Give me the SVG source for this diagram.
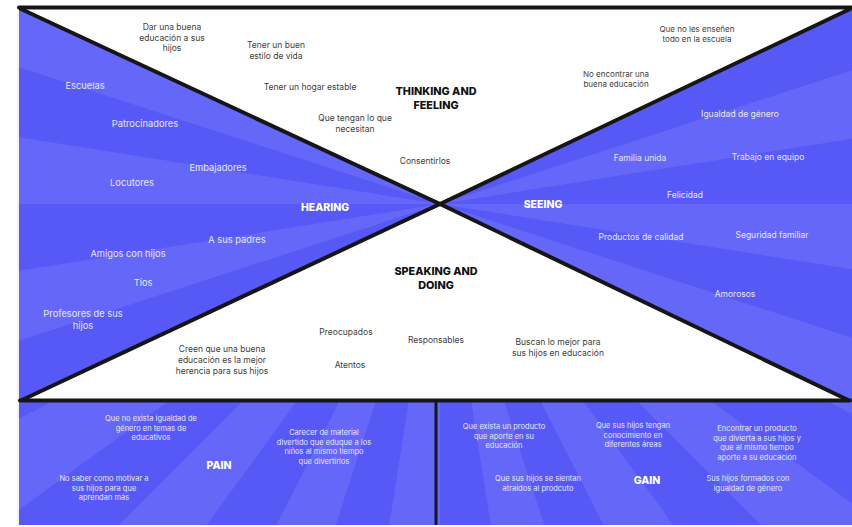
<svg xmlns="http://www.w3.org/2000/svg" width="852" height="527" viewBox="0 0 852 527">
<defs>
<clipPath id="bgclip"><rect x="19" y="6" width="833" height="519"/></clipPath>
<style>
text{font-family:Inter,"Liberation Sans",sans-serif;text-anchor:middle}
.d{font-size:8.5px;fill:#3d3d3d}
.dm{font-size:8px;fill:#3d3d3d}
.w{font-size:9.3px;fill:#e6e7ff}
.ws{font-size:8.5px;fill:#e6e7ff}
.s{font-size:7.5px;fill:#e6e7ff}
.hd{font-size:10.8px;font-weight:800;fill:#111111}
.hw{font-size:10.5px;font-weight:800;fill:#ffffff}
.line{fill:none;stroke:#161616;stroke-width:4;stroke-linejoin:round;stroke-linecap:round}
</style>
</defs>
<rect width="852" height="527" fill="#ffffff"/>
<line x1="18" y1="6" x2="18" y2="526" stroke="#e4e4e4" stroke-width="1"/>
<g id="background" clip-path="url(#bgclip)">
<rect x="19" y="6" width="833" height="519" fill="#5659f6"/>
<path fill="#6467f8" d="M440,204L1240,204L1230.2,329.1Z M440,204L1200.9,451.2L1152.8,567.2Z M440,204L1087.2,674.2L1005.7,769.7Z M440,204L910.2,851.2L803.2,916.8Z M440,204L687.2,964.9L565.1,994.2Z M440,204L440,1004L314.9,994.2Z M440,204L192.8,964.9L76.8,916.8Z M440,204L-30.2,851.2L-125.7,769.7Z M440,204L-207.2,674.2L-272.8,567.2Z M440,204L-320.9,451.2L-350.2,329.1Z M440,204L-360,204L-350.2,78.9Z M440,204L-320.9,-43.2L-272.8,-159.2Z M440,204L-207.2,-266.2L-125.7,-361.7Z M440,204L-30.2,-443.2L76.8,-508.8Z M440,204L192.8,-556.9L314.9,-586.2Z M440,204L440,-596L565.1,-586.2Z M440,204L687.2,-556.9L803.2,-508.8Z M440,204L910.2,-443.2L1005.7,-361.7Z M440,204L1087.2,-266.2L1152.8,-159.2Z M440,204L1200.9,-43.2L1230.2,78.9Z"/>
</g>
<g id="thinking-feeling-area"><polygon points="21,9 850,9 440,204" fill="#ffffff"/></g>
<g id="speaking-doing-area"><polygon points="22,400 848,400 440,204" fill="#ffffff"/></g>
<g id="connectors">
<line class="line" x1="19" y1="7.5" x2="852" y2="7.5"/>
<polyline class="line" points="21,9 440,204 850,9"/>
<polyline class="line" points="22,400 440,204 848,400"/>
<line class="line" x1="20" y1="400.5" x2="850" y2="400.5"/>
<line x1="436" y1="401" x2="436" y2="525" stroke="#161616" stroke-width="3"/>
</g>
<g id="thinking-feeling">
<text class="hd" x="436" y="95">THINKING AND</text>
<text class="hd" x="436" y="109">FEELING</text>
<g id="tf1"><text class="d" x="172" y="30">Dar una buena</text><text class="d" x="172" y="40.5">educación a sus</text><text class="d" x="172" y="51">hijos</text></g>
<g id="tf2"><text class="d" x="276" y="48">Tener un buen</text><text class="d" x="276" y="58.5">estilo de vida</text></g>
<g id="tf3"><text class="d" x="310" y="90">Tener un hogar estable</text></g>
<g id="tf4"><text class="d" x="355" y="121">Que tengan lo que</text><text class="d" x="355" y="132">necesitan</text></g>
<g id="tf5"><text class="d" x="425" y="164">Consentirlos</text></g>
<g id="tf6"><text class="dm" x="697" y="32">Que no les enseñen</text><text class="dm" x="697" y="41.5">todo en la escuela</text></g>
<g id="tf7"><text class="dm" x="616" y="77">No encontrar una</text><text class="dm" x="616" y="86.5">buena educación</text></g>
</g>
<g id="hearing">
<text class="hw" x="325" y="211">HEARING</text>
<g id="h1"><text class="w" x="85" y="89">Escuelas</text></g>
<g id="h2"><text class="w" x="145" y="126.5">Patrocinadores</text></g>
<g id="h3"><text class="w" x="218" y="170.5">Embajadores</text></g>
<g id="h4"><text class="w" x="132" y="185.5">Locutores</text></g>
<g id="h5"><text class="w" x="237" y="242.5">A sus padres</text></g>
<g id="h6"><text class="w" x="128" y="256.5">Amigos con hijos</text></g>
<g id="h7"><text class="w" x="143" y="285.5">Tíos</text></g>
<g id="h8"><text class="w" x="83" y="316.5">Profesores de sus</text><text class="w" x="83" y="328.5">hijos</text></g>
</g>
<g id="seeing">
<text class="hw" x="543" y="208">SEEING</text>
<g id="se1"><text class="ws" x="740" y="116.5">Igualdad de género</text></g>
<g id="se2"><text class="ws" x="640" y="160.5">Familia unida</text></g>
<g id="se3"><text class="ws" x="768" y="159.5">Trabajo en equipo</text></g>
<g id="se4"><text class="ws" x="685" y="197.5">Felicidad</text></g>
<g id="se5"><text class="ws" x="641" y="239.5">Productos de calidad</text></g>
<g id="se6"><text class="ws" x="772" y="237.5">Seguridad familiar</text></g>
<g id="se7"><text class="ws" x="735" y="296.5">Amorosos</text></g>
</g>
<g id="speaking-doing">
<text class="hd" x="436" y="275">SPEAKING AND</text>
<text class="hd" x="436" y="289">DOING</text>
<g id="sd1"><text class="d" x="346" y="335">Preocupados</text></g>
<g id="sd2"><text class="d" x="436" y="343">Responsables</text></g>
<g id="sd3"><text class="d" x="350" y="368">Atentos</text></g>
<g id="sd4"><text class="d" x="222" y="352">Creen que una buena</text><text class="d" x="222" y="363">educación es la mejor</text><text class="d" x="222" y="374">herencia para sus hijos</text></g>
<g id="sd5"><text class="d" x="558" y="345">Buscan lo mejor para</text><text class="d" x="558" y="356">sus hijos en educación</text></g>
</g>
<g id="pain">
<text class="hw" x="219" y="469">PAIN</text>
<g id="p1"><text class="s" x="151" y="421">Que no exista igualdad de</text><text class="s" x="151" y="430.5">género en temas de</text><text class="s" x="151" y="440">educativos</text></g>
<g id="p2"><text class="s" x="324" y="435">Carecer de material</text><text class="s" x="324" y="444.5">divertido que eduque a los</text><text class="s" x="324" y="454">niños al mismo tiempo</text><text class="s" x="324" y="463.5">que divertirlos</text></g>
<g id="p3"><text class="s" x="104" y="481">No saber como motivar a</text><text class="s" x="104" y="490.5">sus hijos para que</text><text class="s" x="104" y="500">aprendan más</text></g>
</g>
<g id="gain">
<text class="hw" x="647" y="484">GAIN</text>
<g id="g1"><text class="s" x="504" y="429">Que exista un producto</text><text class="s" x="504" y="438.5">que aporte en su</text><text class="s" x="504" y="448">educación</text></g>
<g id="g2"><text class="s" x="633" y="428">Que sus hijos tengan</text><text class="s" x="633" y="437.5">conocimiento en</text><text class="s" x="633" y="447">diferentes áreas</text></g>
<g id="g3"><text class="s" x="757" y="431">Encontrar un producto</text><text class="s" x="757" y="440.5">que divierta a sus hijos y</text><text class="s" x="757" y="450">que al mismo tiempo</text><text class="s" x="757" y="459.5">aporte a su educación</text></g>
<g id="g4"><text class="s" x="538" y="481">Que sus hijos se sientan</text><text class="s" x="538" y="490.5">atraídos al prodcuto</text></g>
<g id="g5"><text class="s" x="748" y="481">Sus hijos formados con</text><text class="s" x="748" y="490.5">igualdad de género</text></g>
</g>
</svg>
